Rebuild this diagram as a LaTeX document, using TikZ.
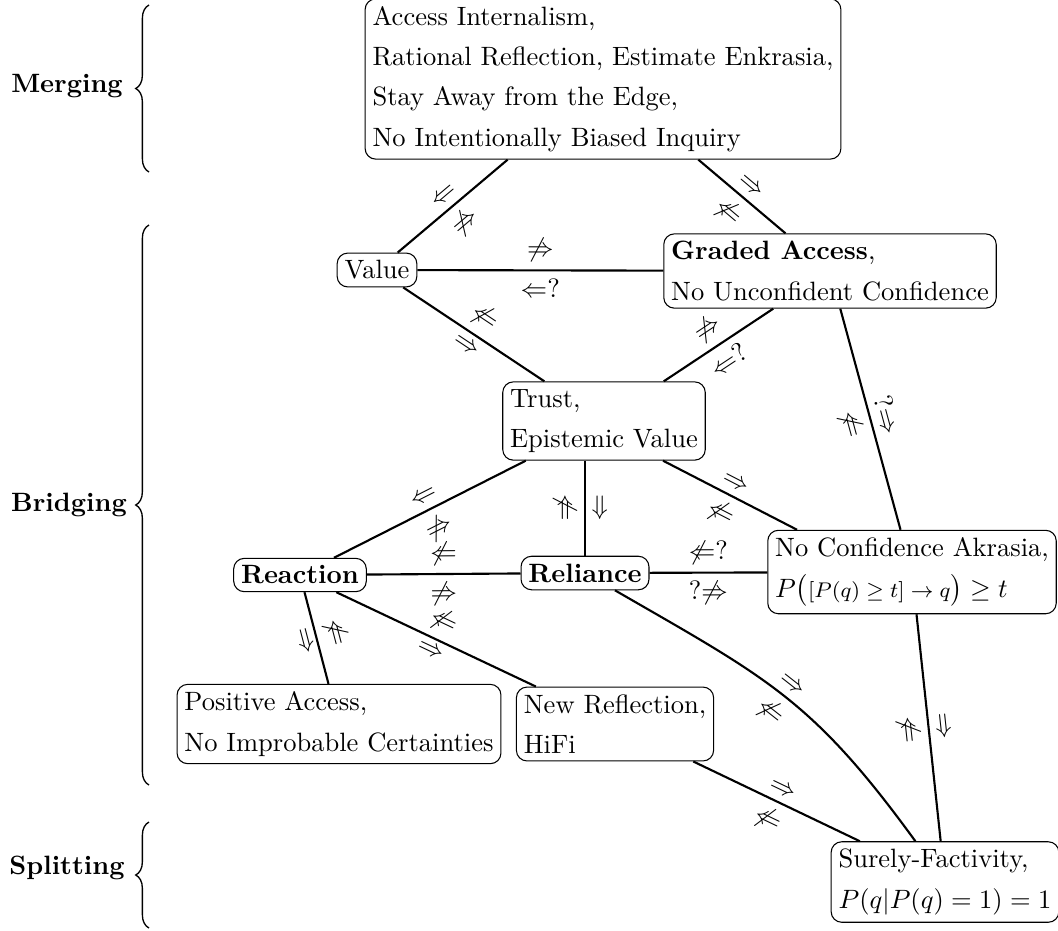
\documentclass[tikz,border=0pt]{standalone}
\usepackage{amsmath,amssymb}
\usetikzlibrary{decorations.pathreplacing,calc}
\begin{document}
\begin{tikzpicture}[x=0.377pt,y=0.377pt,
 box/.style={draw, rounded corners=4pt, align=left, inner sep=2.8pt, line width=0.4pt},
 edge/.style={line width=0.8pt},
 lab/.style={sloped, inner sep=2.7pt},
 brc/.style={decorate, decoration={brace, amplitude=5pt}, line width=0.5pt},
 grp/.style={font=\bfseries}]
\useasboundingbox (0,0) rectangle (1058,-930);

% group labels
\node[grp] (gm) at (67,-86) {Merging};
\node[grp] (gb) at (69,-505) {Bridging};
\node[grp] (gs) at (67,-868) {Splitting};
\coordinate (m1) at (149,-172); \coordinate (m2) at (149,-5);
\coordinate (b1) at (149,-785); \coordinate (b2) at (149,-225);
\coordinate (s1) at (149,-928); \coordinate (s2) at (149,-822);
\draw[brc] (m1) -- (m2);
\draw[brc] (b1) -- (b2);
\draw[brc] (s1) -- (s2);

% nodes
\node[box] (top) at (603,-79) {Access Internalism,\\[3.2pt]
  Rational Reflection, Estimate Enkrasia,\\[3.2pt]
  Stay Away from the Edge,\\[3.2pt]
  No Intentionally Biased Inquiry};
\node[box] (val) at (377,-270) {Value};
\node[box] (grad) at (830,-271) {\textbf{Graded Access},\\[3.2pt] No Unconfident Confidence};
\node[box] (trust) at (604,-421) {Trust,\\[3.2pt] Epistemic Value};
\node[box] (react) at (300,-575) {\textbf{Reaction}};
\node[box] (rel) at (585,-573) {\textbf{Reliance}};
\node[box] (nca) at (912,-572) {No Confidence Akrasia,\\[3.2pt]
  $P\big(\text{\footnotesize$[P(q)\geq t]\rightarrow q$}\big)\geq t$};
\node[box] (pos) at (339,-724) {Positive Access,\\[3.2pt] No Improbable Certainties};
\node[box] (newr) at (615,-724) {New Reflection,\\[3.2pt] HiFi};
\node[box] (sure) at (945,-882) {Surely-Factivity,\\[3.2pt] $P(q|P(q)=1)=1$};

% edges
\draw[edge] (top) -- node[lab,above]{$\Leftarrow$} node[lab,below]{$\not\Rightarrow$} (val);
\draw[edge] (top) -- node[lab,above]{$\Rightarrow$} node[lab,below]{$\not\Leftarrow$} (grad);
\draw[edge] (val) -- node[lab,above]{$\not\Rightarrow$} node[lab,below]{$\Leftarrow$?} (grad);
\draw[edge] (val) -- node[lab,above]{$\not\Leftarrow$} node[lab,below]{$\Rightarrow$} (trust);
\draw[edge] (grad) -- node[lab,above]{$\not\Rightarrow$} node[lab,below]{$\Leftarrow$?} (trust);
\draw[edge] (grad) -- node[lab,above]{?$\Rightarrow$} node[lab,below]{$\not\Leftarrow$} (nca);
\draw[edge] (trust) -- node[lab,above]{$\Leftarrow$} node[lab,below]{$\not\Rightarrow$} (react);
\draw[edge] (trust.south -| rel.north) -- node[lab,above]{$\Rightarrow$} node[lab,below]{$\not\Leftarrow$} (rel.north);
\draw[edge] ($(trust.south)+(59,0)$) -- node[lab,above]{$\Rightarrow$} node[lab,below]{$\not\Leftarrow$} ($(nca.north)+(-115,0)$);
\draw[edge] (react) -- node[lab,above]{$\not\Leftarrow$} node[lab,below]{$\not\Rightarrow$} (rel);
\draw[edge] (rel) -- node[lab,above]{$\not\Leftarrow$?} node[lab,below]{?$\not\Rightarrow$} (nca);
\draw[edge] (react) -- node[lab,above]{$\not\Leftarrow$} node[lab,below]{$\Rightarrow$} (pos);
\draw[edge] (react) -- node[lab,above]{$\not\Leftarrow$} node[lab,below]{$\Rightarrow$} (newr);
\draw[edge] (rel) to[out=-30, in=126, looseness=1.15] node[lab,above]{$\Rightarrow$} node[lab,below]{$\not\Leftarrow$} (sure);
\draw[edge] (nca) -- node[lab,above]{$\Rightarrow$} node[lab,below]{$\not\Leftarrow$} (sure);
\draw[edge] (newr) -- node[lab,above]{$\Rightarrow$} node[lab,below]{$\not\Leftarrow$} (sure);
\end{tikzpicture}
\end{document}
